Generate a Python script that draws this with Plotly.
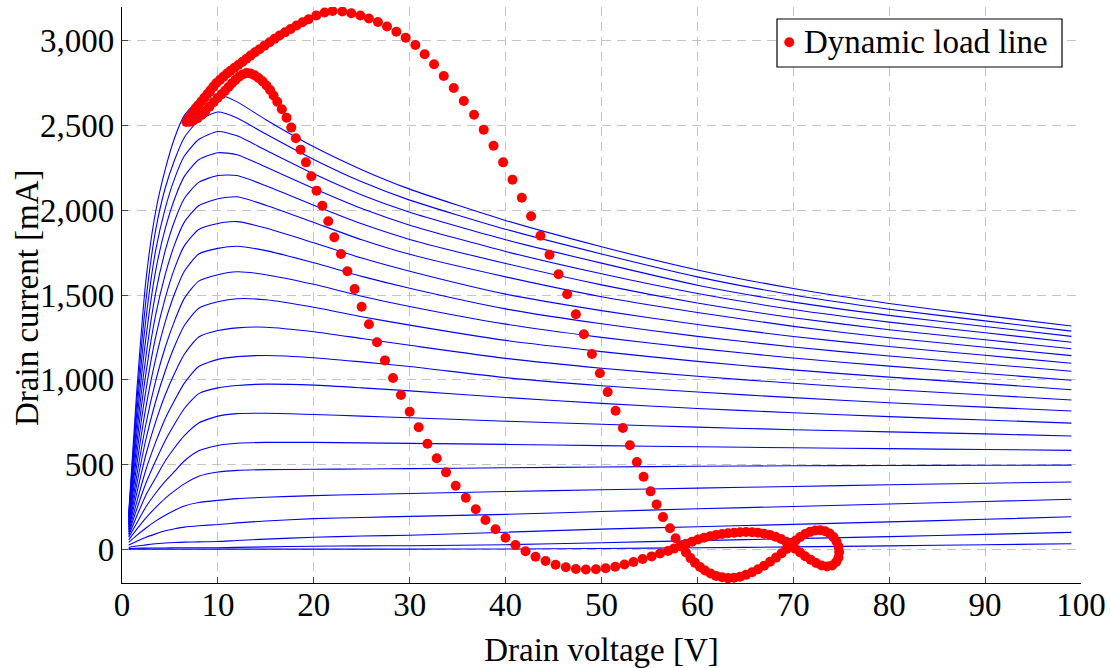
import plotly.graph_objects as go

# Drain voltage grid of the static I-V curves [V]
vds = [0.7, 1.5, 2.5, 3.5, 4.5, 5.5, 6.5, 8, 10, 12, 15, 20, 25, 30, 40, 50, 60, 70, 80, 90, 99]

# Drain current [mA] of each static curve (lowest gate bias first)
id_curves = [
    [0, 0, 0, 0, 0, 0, 0, 0, 0, 0, 0, 0, 0, 0, 1, 4, 8, 13, 19, 26, 32],
    [3, 5, 6, 7, 7, 8, 8, 8, 8, 10, 13, 17, 19, 20, 26, 38, 50, 62, 74, 87, 99],
    [10, 18, 25, 32, 36, 39, 41, 43, 45, 51, 59, 70, 77, 82, 100, 118, 132, 146, 161, 176, 191],
    [25, 45, 70, 90, 108, 120, 130, 138, 145, 155, 166, 180, 187, 193, 205, 222, 238, 252, 266, 281, 294],
    [40, 80, 125, 165, 200, 230, 255, 275, 288, 298, 306, 316, 322, 328, 340, 350, 360, 370, 380, 389, 396],
    [55, 115, 185, 245, 300, 345, 385, 430, 455, 465, 469, 471, 473, 475, 480, 485, 489, 492, 494, 495, 496],
    [70, 150, 250, 330, 400, 460, 520, 580, 612, 625, 630, 630, 627, 624, 618, 611, 604, 598, 593, 588, 583],
    [80, 190, 320, 420, 520, 600, 670, 745, 785, 800, 802, 795, 785, 775, 755, 737, 720, 705, 692, 680, 668],
    [90, 230, 390, 520, 640, 740, 830, 918, 952, 966, 974, 968, 952, 934, 895, 860, 830, 805, 782, 762, 744],
    [100, 270, 470, 630, 770, 880, 980, 1078, 1120, 1136, 1143, 1130, 1105, 1078, 1012, 964, 927, 894, 864, 838, 815],
    [110, 320, 560, 750, 910, 1040, 1150, 1252, 1290, 1306, 1310, 1283, 1243, 1203, 1126, 1068, 1020, 979, 942, 910, 880],
    [120, 370, 650, 870, 1050, 1200, 1320, 1422, 1460, 1478, 1472, 1428, 1372, 1322, 1232, 1166, 1108, 1058, 1015, 977, 941],
    [130, 420, 740, 990, 1190, 1350, 1480, 1582, 1620, 1637, 1620, 1563, 1493, 1432, 1328, 1250, 1185, 1128, 1080, 1037, 997],
    [140, 480, 840, 1120, 1340, 1510, 1640, 1742, 1775, 1788, 1762, 1690, 1610, 1540, 1418, 1330, 1256, 1193, 1140, 1093, 1050],
    [150, 540, 940, 1250, 1480, 1660, 1790, 1887, 1922, 1933, 1895, 1808, 1718, 1640, 1505, 1408, 1326, 1255, 1196, 1144, 1097],
    [160, 600, 1040, 1380, 1620, 1800, 1930, 2027, 2068, 2080, 2030, 1928, 1826, 1740, 1607, 1490, 1397, 1315, 1248, 1192, 1142],
    [170, 660, 1140, 1510, 1760, 1940, 2070, 2165, 2205, 2205, 2145, 2030, 1920, 1828, 1686, 1560, 1453, 1366, 1295, 1236, 1183],
    [180, 720, 1250, 1640, 1890, 2070, 2200, 2298, 2340, 2328, 2255, 2128, 2010, 1912, 1757, 1625, 1509, 1414, 1340, 1277, 1221],
    [190, 780, 1360, 1760, 2010, 2190, 2320, 2418, 2465, 2440, 2355, 2215, 2090, 1988, 1826, 1688, 1558, 1458, 1380, 1314, 1256],
    [200, 840, 1470, 1880, 2130, 2300, 2430, 2530, 2580, 2545, 2450, 2300, 2168, 2060, 1888, 1742, 1607, 1500, 1416, 1347, 1287],
    [213, 900, 1589, 1990, 2240, 2430, 2560, 2650, 2685, 2640, 2535, 2375, 2240, 2125, 1940, 1785, 1648, 1538, 1450, 1378, 1317],
]

# Dynamic load line samples
load_vds = [
    6.72, 6.93, 7.19, 7.45, 7.71, 7.97, 8.29, 8.60, 8.91, 9.23, 9.54, 9.85, 10.22, 10.58, 10.95, 11.31,
    11.73, 12.15, 12.57, 12.98, 13.40, 13.87, 14.34, 14.86, 15.39, 15.91, 16.43, 17.00, 17.58, 18.20,
    18.83, 19.46, 20.26, 21.13, 21.96, 22.97, 23.91, 24.85, 25.75, 26.69, 27.63, 28.61, 29.58, 30.59,
    31.56, 32.54, 33.55, 34.59, 35.64, 36.71, 37.72, 38.74, 39.74, 40.72, 41.69, 42.66, 43.64, 44.58,
    45.52, 46.42, 47.33, 48.16, 49.00, 49.83, 50.64, 51.47, 52.23, 52.96, 53.69, 54.39, 55.12, 55.75,
    56.41, 57.14, 57.73, 58.32,
    58.81, 59.28, 59.75, 60.27, 60.79, 61.37, 61.94, 62.57, 63.19, 63.82, 64.44, 65.07, 65.70, 66.32,
    66.95, 67.58, 68.20, 68.78, 69.30, 69.77, 70.24, 70.71, 71.23, 71.75, 72.28, 72.80, 73.32, 73.79,
    74.19, 74.50, 74.71, 74.78, 74.71, 74.47, 74.05, 73.53, 72.95, 72.38, 71.81, 71.23, 70.71, 70.19,
    69.72, 69.25, 68.73, 68.15, 67.58, 66.95, 66.32, 65.70, 65.07, 64.44, 63.82, 63.19, 62.57, 61.94,
    61.32, 60.69, 60.06, 59.44, 58.81, 58.18, 57.56, 56.93, 56.10, 55.23, 54.29, 53.33, 52.39, 51.43,
    50.43, 49.42, 48.37, 47.33, 46.28, 45.21, 44.17, 43.12, 42.08, 41.03, 39.99, 38.95, 37.90, 36.89,
    35.85, 34.80, 33.79, 32.82, 31.85, 30.94, 30.00, 29.09, 28.26, 27.42, 26.59, 25.75, 24.99, 24.26,
    23.50, 22.83, 22.14, 21.51, 20.89, 20.29, 19.74, 19.18, 18.62, 18.13, 17.65, 17.16, 16.67, 16.19,
    15.80, 15.44, 15.07, 14.66, 14.24, 13.82, 13.40, 12.99, 12.57, 12.20, 11.84, 11.47, 11.11, 10.74,
    10.38, 9.96, 9.54, 9.12, 8.71, 8.29, 7.87, 7.45, 7.09,
]
load_id = [
    2521, 2542, 2563, 2583, 2604, 2622, 2643, 2665, 2686, 2708, 2730, 2751, 2770, 2789, 2807, 2823,
    2841, 2859, 2877, 2895, 2913, 2933, 2951, 2972, 2992, 3012, 3032, 3051, 3070, 3091,
    3110, 3128, 3150, 3168, 3176, 3173, 3163, 3150, 3132, 3111, 3085, 3054, 3019, 2976,
    2921, 2862, 2793, 2722, 2645, 2564, 2476, 2381, 2283, 2181, 2074, 1965, 1850, 1738,
    1622, 1504, 1386, 1268, 1152, 1038, 927, 817, 715, 613, 514, 427, 341, 264,
    189, 123, 64, 15,
    -20, -53, -81, -106, -126, -144, -158, -166, -171, -169, -163, -152, -137, -119,
    -98, -75, -50, -25, 1, 27, 51, 71, 89, 102, 110, 111, 105, 92,
    71, 45, 15, -17, -50, -76, -96, -103, -97, -82, -63, -42, -20, 2,
    24, 43, 60, 73, 83, 91, 97, 100, 101, 100, 97, 94, 89, 83,
    76, 67, 57, 44, 31, 17, 3, -11, -26, -43, -58, -76, -91, -104,
    -113, -119, -120, -117, -107, -92, -70, -45, -13, 24, 67, 117, 172, 235,
    303, 374, 453, 536, 622, 719, 811, 910, 1010, 1114, 1221, 1327, 1431, 1535,
    1640, 1742, 1841, 1935, 2027, 2116, 2201, 2283, 2358, 2425, 2488, 2547, 2596, 2641,
    2678, 2710, 2737, 2761, 2781, 2797, 2807, 2810, 2802, 2788, 2770, 2750, 2728, 2705,
    2685, 2663, 2638, 2612, 2586, 2563, 2543, 2530, 2523,
]

x_ticks = [0, 10, 20, 30, 40, 50, 60, 70, 80, 90, 100]
y_ticks = [0, 500, 1000, 1500, 2000, 2500, 3000]
y_tick_text = ["0", "500", "1,000", "1,500", "2,000", "2,500", "3,000"]
legend_label = "Dynamic load line"
x_title = "Drain voltage [V]"
y_title = "Drain current [mA]"

FONT = "Liberation Serif"
fig = go.Figure()
for curve in id_curves:
    fig.add_trace(go.Scatter(x=vds, y=curve, mode="lines",
                             line=dict(color="#0000ff", width=1.1, shape="spline", smoothing=0.6),
                             showlegend=False, hoverinfo="skip"))
fig.add_trace(go.Scatter(x=load_vds, y=load_id, mode="markers", name=legend_label,
                         marker=dict(color="#ff0000", size=10, line=dict(width=0)),
                         showlegend=False))

axis_style = dict(showgrid=True, gridcolor="#c4c4c4", gridwidth=1.2, griddash="9px,6px",
                  showline=True, linecolor="black", linewidth=1.2, mirror=False,
                  ticks="inside", ticklen=6, tickwidth=1, tickcolor="#444444",
                  zeroline=False, automargin=False,
                  tickfont=dict(family=FONT, size=33, color="black"))

fig.update_xaxes(range=[0, 100], tickvals=x_ticks, ticklabelstandoff=-8,
                 title=dict(text=x_title, font=dict(family=FONT, size=33, color="black"), standoff=16),
                 **axis_style)
fig.update_yaxes(range=[-200, 3200], tickvals=y_ticks, ticktext=y_tick_text, **axis_style)

# y-axis title placed explicitly
fig.add_annotation(xref="paper", yref="paper", x=-0.0991, y=0.4965, xanchor="center", yanchor="middle",
                   text=y_title, textangle=-90, showarrow=False,
                   font=dict(family=FONT, size=33, color="black"))

# legend box drawn by hand to match the reference layout
fig.add_shape(type="rect", xref="paper", yref="paper", x0=0.6830, x1=0.9802, y0=0.8958, y1=0.9792,
              line=dict(color="black", width=1.2), fillcolor="white", layer="above")
fig.add_shape(type="circle", xref="paper", yref="paper", xsizemode="pixel", ysizemode="pixel",
              xanchor=0.6958, yanchor=0.9387, x0=-5, x1=5, y0=-5, y1=5,
              line=dict(width=0), fillcolor="#ff0000", layer="above")
fig.add_annotation(xref="paper", yref="paper", x=0.7088, y=0.9387, xanchor="left", yanchor="middle",
                   text=legend_label, showarrow=False, font=dict(family=FONT, size=33, color="black"))

fig.update_layout(width=1110, height=668, margin=dict(l=122, r=29, t=7, b=85, autoexpand=False),
                  plot_bgcolor="white", paper_bgcolor="white", showlegend=False)
fig.write_html("out.html")
